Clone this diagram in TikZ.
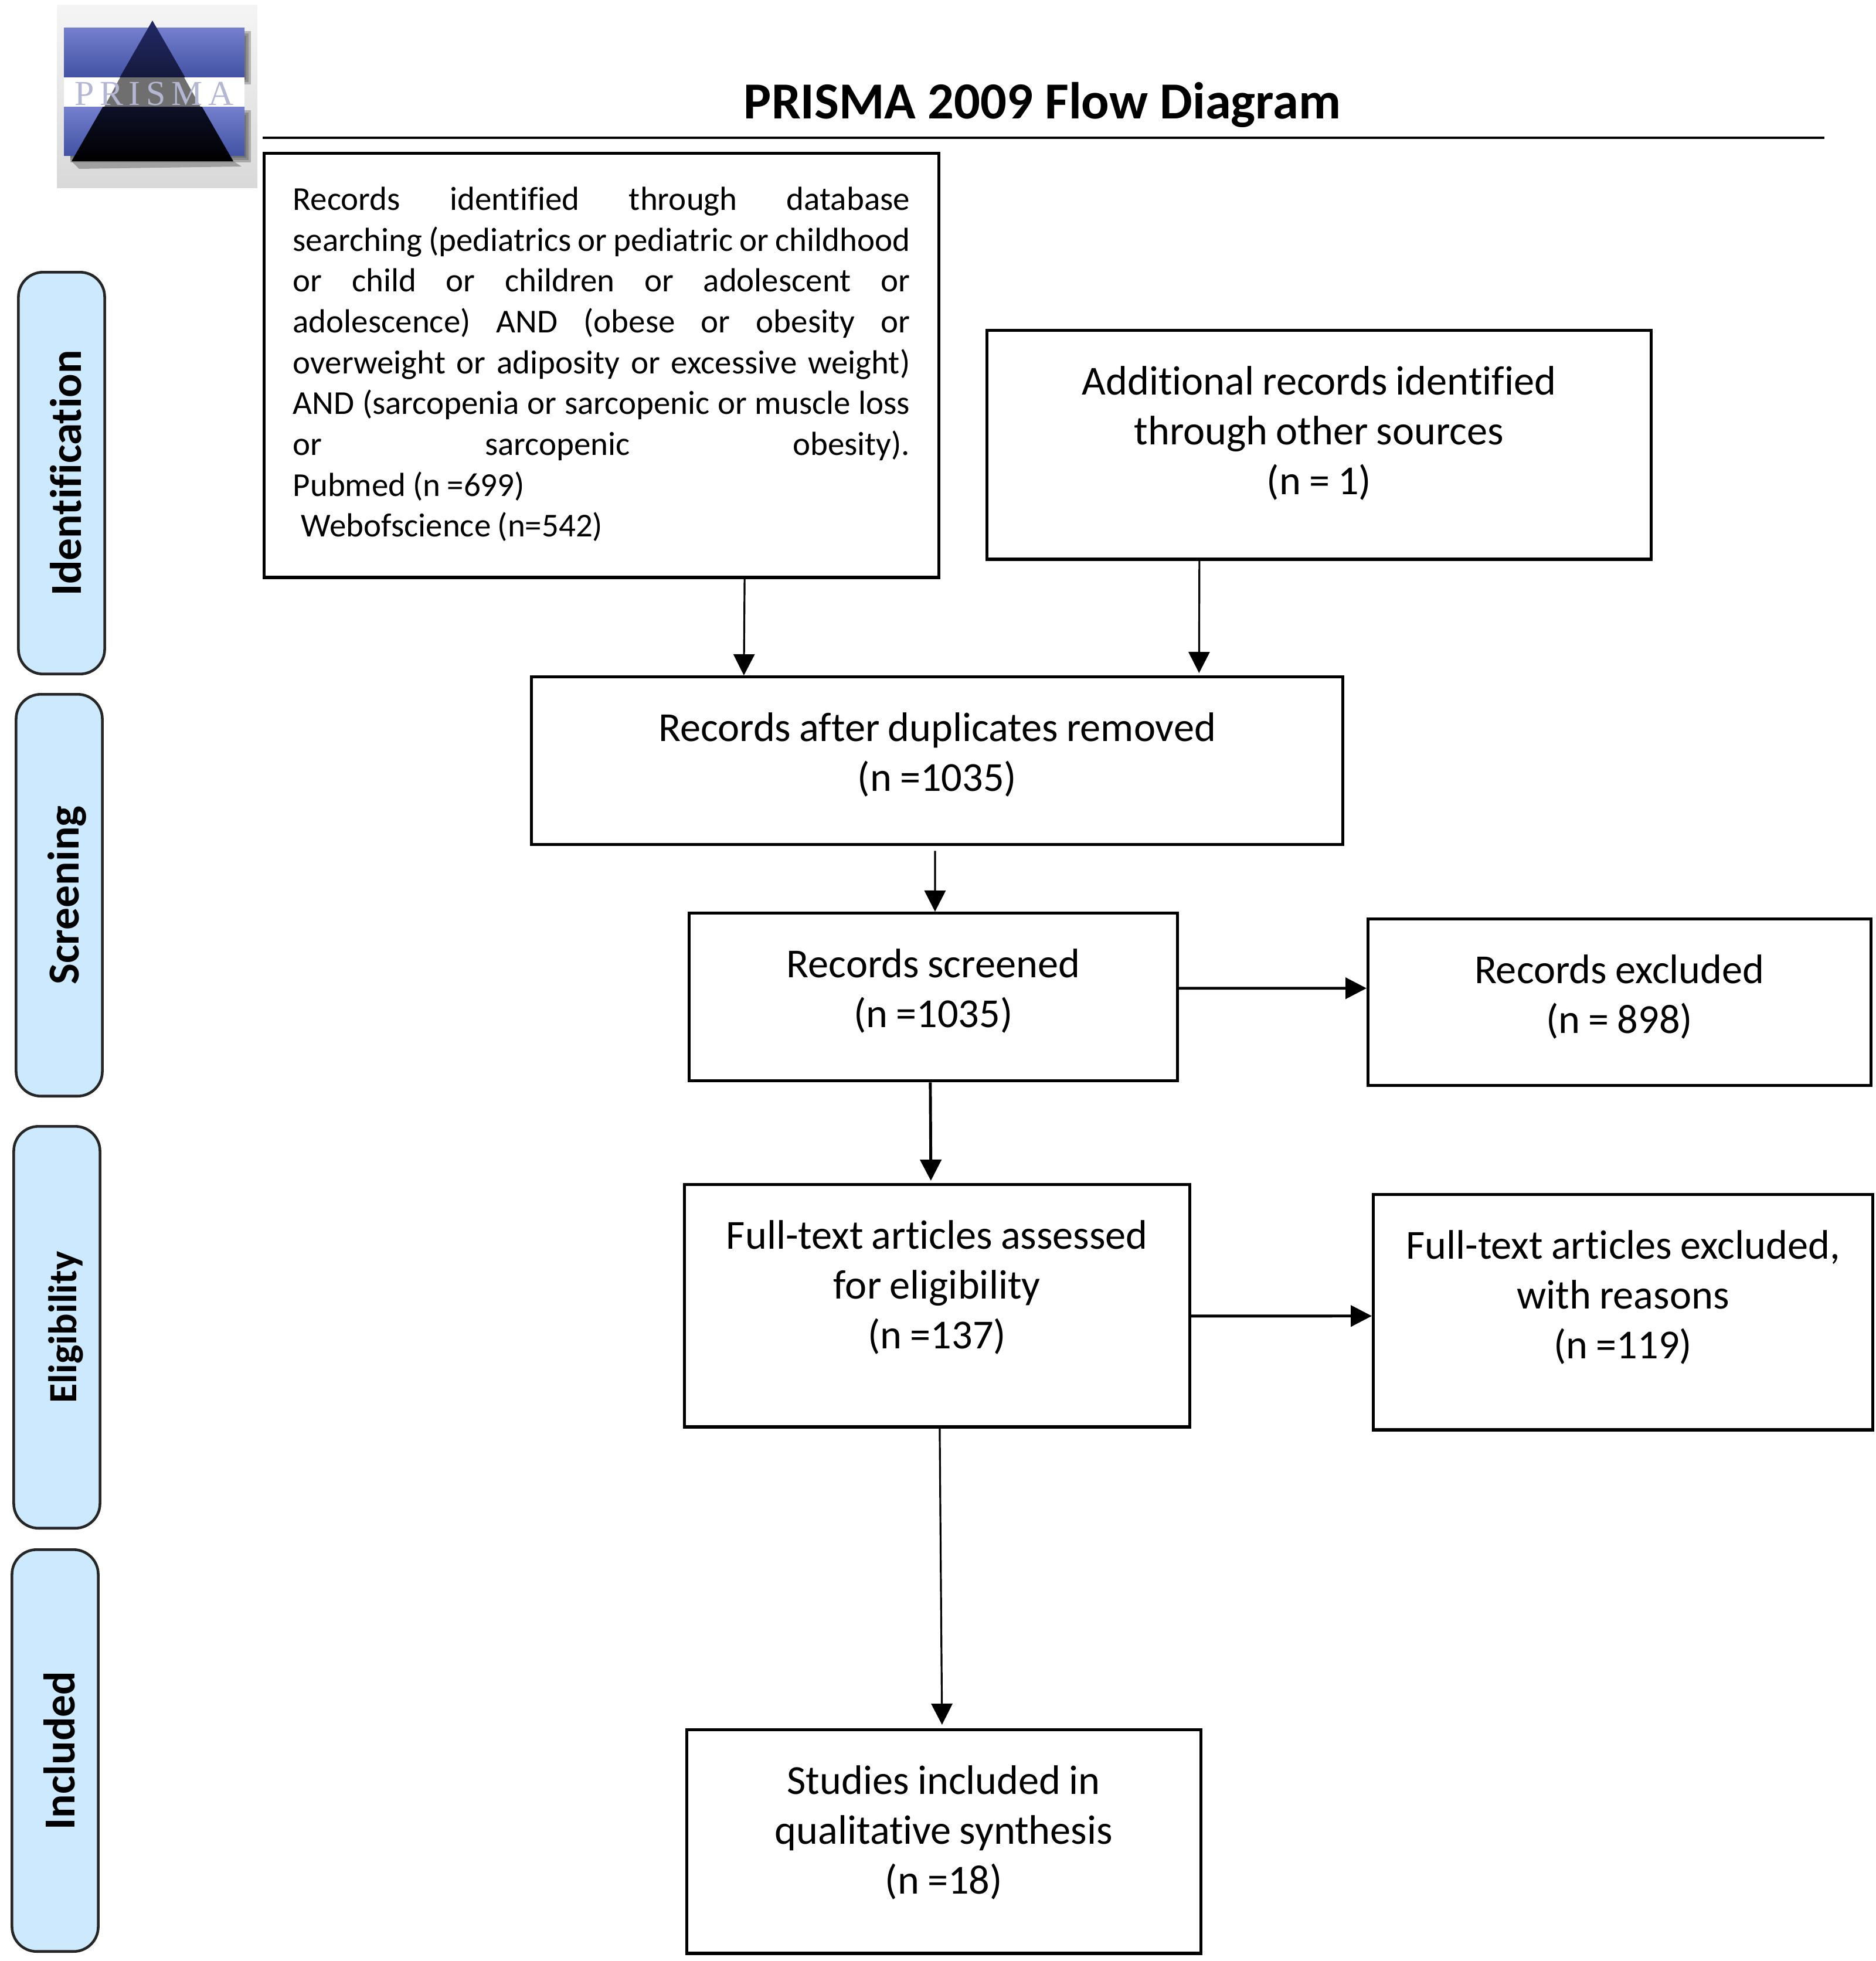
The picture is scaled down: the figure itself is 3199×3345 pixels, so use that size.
\documentclass[tikz,border=0pt]{standalone}
\usepackage{fontspec}
\setmainfont[Ligatures=NoCommon]{Carlito}
\newfontfamily\logofont{Liberation Serif}
\usetikzlibrary{arrows.meta,shapes}
\definecolor{phaseblue}{HTML}{CCE9FD}
\definecolor{barlight}{HTML}{7480CE}
\definecolor{bardark}{HTML}{4352A4}
\definecolor{apexnavy}{HTML}{232A66}
\tikzstyle{flowbox}=[draw=black,line width=1.5pt,inner ysep=0pt,inner xsep=0pt,anchor=north west,text height=1.1cm,align=center,font=\fontsize{20}{24.2}\selectfont]
\tikzstyle{phase}=[draw=black!85,fill=phaseblue,line width=1.3pt,rounded corners=.42cm,rotate=90,minimum width=6.85cm,minimum height=1.47cm,inner sep=0pt,text height=20.4pt,text depth=1.6pt]
\tikzstyle{flow}=[draw,line width=.9pt,-{Triangle[length=.36cm,width=.36cm]}]
\begin{document}
\begin{tikzpicture}[x=.01cm,y=-.01cm]
    \useasboundingbox (0,0) rectangle (3199,3345);
    % The logo first
    \shade[top color=black!4,bottom color=black!15] (97,8) rectangle (439,320);
    \foreach \off in {0,4,8} {
        \fill[black!70,opacity=.35] (120,61-\off) rectangle (420+\off,136+\off);
        \fill[black!70,opacity=.35] (120,196-\off) rectangle (420+\off,269+\off);
    }
    \foreach \ytop/\ybot in {47/132, 182/265}
        \shade[top color=barlight,bottom color=bardark] (109,\ytop) rectangle (417,\ybot);
    \fill[black!60,opacity=.5] (122,275) -- (398,275) -- (412,284) -- (135,288) -- cycle;
    \shade[top color=apexnavy,bottom color=black] (260,35) -- (398,275) -- (122,275) -- cycle;
    \fill[white] (109,132) rectangle (417,182);
    \fill[black!75,opacity=.75] (205,132) -- (314,132) -- (342,182) -- (178,182) -- cycle;
    \node[inner sep=0pt,text=black!25!barlight!45!white,font=\fontsize{17}{20}\logofont] (logotext) at (263,160) {P\kern2.8pt R\kern2.8pt I\kern2.8pt S\kern2.8pt M\kern2.8pt A};
    % Title with its rule
    \node[inner sep=0pt,font=\fontsize{25.2}{30}\selectfont\bfseries] (title) at (1778,179) {PRISMA 2009 Flow Diagram};
    \coordinate (ruleleft) at (448,235);
    \coordinate (ruleright) at (3112,235);
    \path[draw,line width=1.1pt] (ruleleft) -- (ruleright);
    % The four phases on the left
    \foreach \pos/\name/\fsize/\txt in {{(105,807)/identification/21.5/Identification}, {(101,1527)/screening/21.5/Screening}, {(97,2264)/eligibility/19.4/Eligibility}, {(94,2986)/included/21.5/Included}}
        \node[phase,font=\fontsize{\fsize}{24}\selectfont\bfseries] (\name) at \pos {\txt};
    % The long search box
    \node[flowbox,inner xsep=.49cm,text width=10.52cm,text height=.97cm,text depth=6.26cm,align=justify,font=\fontsize{16.2}{19.8}\selectfont] (search) at (448,259) {\spaceskip=.2em plus 5em minus .05em\relax Records identified through database\linebreak searching (pediatrics or pediatric or childhood\linebreak or child or children or adolescent or\linebreak adolescence) AND (obese or obesity or\linebreak overweight or adiposity or excessive weight)\linebreak AND (sarcopenia or sarcopenic or muscle loss\linebreak or sarcopenic obesity).\linebreak Pubmed (n =699)\newline\hspace*{.14cm}Webofscience (n=542)};
    % Then the other boxes
    \foreach \pos/\name/\bwid/\bdep/\txt in {
        {(1681,561)/other/11.32cm/2.8cm/{Additional records identified\\through other sources\\(n = 1)}},
        {(904,1152)/duplicates/13.83cm/1.76cm/{Records after duplicates removed\\(n =1035)}},
        {(1173,1555)/screened/8.32cm/1.76cm/{Records screened\\(n =1035)}},
        {(2331,1565)/excluded/8.57cm/1.74cm/{Records excluded\\(n = 898)}},
        {(1165,2018)/fulltext/8.61cm/3.03cm/{Full-text articles assessed\\for eligibility\\(n =137)}},
        {(2340,2035)/reasons/8.51cm/2.91cm/{Full-text articles excluded,\\with reasons\\(n =119)}},
        {(1169,2948)/studies/8.76cm/2.71cm/{Studies included in\\qualitative synthesis\\(n =18)}}}
        \node[flowbox,text width=\bwid,text depth=\bdep] (\name) at \pos {\spaceskip=.2em\relax\txt};
    % Connect the boxes downwards
    \foreach \source/\sx/\dest/\dx/\sgap/\egap/\lw in {
        search.south/2.44cm/duplicates.north/-3.295cm/0cm/0cm/.9pt,
        other.south/-2.04cm/duplicates.north/4.465cm/0cm/.04cm/.9pt,
        duplicates.south/-.035cm/screened.north/.03cm/.08cm/0cm/.9pt,
        screened.south/-.05cm/fulltext.north/-.105cm/0cm/.04cm/1.4pt,
        fulltext.south/.045cm/studies.north/-.03cm/0cm/.06cm/.9pt}
        \path[flow,shorten <=\sgap,shorten >=\egap,line width=\lw] ([xshift=\sx]\source) -- ([xshift=\dx]\dest);
    % and to the right
    \foreach \source/\sy/\dest/\dy in {screened.east/.15cm/excluded.west/.24cm, fulltext.east/-.175cm/reasons.west/-.065cm}
        \path[flow,line width=1.4pt] ([yshift=\sy]\source) -- ([yshift=\dy]\dest);
\end{tikzpicture}
\end{document}
